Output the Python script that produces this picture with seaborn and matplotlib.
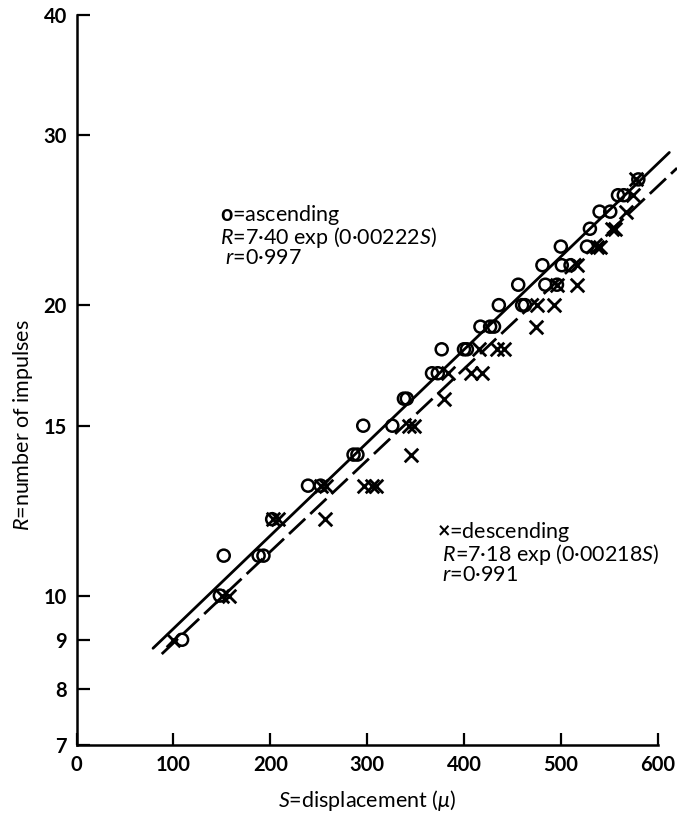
import numpy as np
import pandas as pd
import matplotlib
matplotlib.use("Agg")
import matplotlib.pyplot as plt
import seaborn as sns
from matplotlib.ticker import FixedLocator, FixedFormatter, NullLocator

# Theme first, fonts after (set_theme resets font.family)
sns.set_theme(style="white")
plt.rcParams['font.family'] = ['Lato', 'DejaVu Sans']
plt.rcParams['mathtext.fontset'] = 'custom'
plt.rcParams['mathtext.it'] = 'Lato:italic'
plt.rcParams['mathtext.rm'] = 'Lato'
plt.rcParams['mathtext.bf'] = 'Lato:bold'
plt.rcParams['text.color'] = 'black'
plt.rcParams['axes.labelcolor'] = 'black'

# Ascending stimuli (open circles): displacement S (micron), impulses R
asc_S = [109, 148, 152, 188, 193, 202, 239, 252, 286, 290, 296, 326, 338, 341,
         367, 373, 377, 400, 403, 417, 427, 431, 436, 460, 463, 456, 484, 496,
         481, 501, 510, 500, 527, 530, 540, 551, 559, 565, 580]
asc_R = [9, 10, 11, 11, 11, 12, 13, 13, 14, 14, 15, 15, 16, 16,
         17, 17, 18, 18, 18, 19, 19, 19, 20, 20, 20, 21, 21, 21,
         22, 22, 22, 23, 23, 24, 25, 25, 26, 26, 27]

# Descending stimuli (crosses)
desc_S = [100, 150, 157, 203, 208, 257, 252, 258, 297, 305, 309, 345, 343, 348,
          379, 384, 407, 419, 415, 434, 441, 474, 475, 493, 496, 517, 517, 537,
          540, 553, 556, 567, 575, 578]
desc_R = [9, 10, 10, 12, 12, 12, 13, 13, 13, 13, 13, 14, 15, 15,
          16, 17, 17, 17, 18, 18, 18, 19, 20, 20, 21, 21, 22, 23,
          23, 24, 24, 25, 26, 27]

# Fitted curves R = a exp(b S), as printed on the chart
asc_a, asc_b = 7.40, 0.00222
desc_a, desc_b = 7.18, 0.00218
asc_line_S = [79, 612]
desc_line_S = [88, 620]

x_ticks = [0, 100, 200, 300, 400, 500, 600]
y_ticks = [7, 8, 9, 10, 15, 20, 30, 40]

fig = plt.figure(figsize=(6.77, 8.13), dpi=100)
ax = fig.add_axes([0.113, 0.0836, 0.8585, 0.8983])

# fit lines
asc_fit = pd.DataFrame({'S': asc_line_S})
asc_fit['R'] = asc_a * np.exp(asc_b * asc_fit['S'])
desc_fit = pd.DataFrame({'S': desc_line_S})
desc_fit['R'] = desc_a * np.exp(desc_b * desc_fit['S'])

sns.lineplot(data=asc_fit, x='S', y='R', color='black', linewidth=2.0,
             ax=ax, clip_on=False, zorder=2)
sns.lineplot(data=desc_fit, x='S', y='R', color='black', linewidth=2.0,
             linestyle=(0, (8, 2.5)), ax=ax, clip_on=False, zorder=2)

# points
asc_df = pd.DataFrame({'S': asc_S, 'R': asc_R})
desc_df = pd.DataFrame({'S': desc_S, 'R': desc_R})
sns.scatterplot(data=asc_df, x='S', y='R', marker='o', s=75,
                facecolors='none', edgecolor='black', linewidth=1.8,
                ax=ax, zorder=3, clip_on=False)
sns.scatterplot(data=desc_df, x='S', y='R', marker='x', s=95,
                color='black', linewidth=2.0, ax=ax, zorder=3, clip_on=False)

ax.set_yscale('log')
ax.set_xlim(0, 600)
ax.set_ylim(7, 40)
ax.xaxis.set_major_locator(FixedLocator(x_ticks))
ax.xaxis.set_major_formatter(FixedFormatter([str(v) for v in x_ticks]))
ax.yaxis.set_major_locator(FixedLocator(y_ticks))
ax.yaxis.set_major_formatter(FixedFormatter([str(v) for v in y_ticks]))
ax.yaxis.set_minor_locator(NullLocator())
ax.xaxis.set_minor_locator(NullLocator())

sns.despine(ax=ax)
for side in ['left', 'bottom']:
    ax.spines[side].set_linewidth(1.8)
    ax.spines[side].set_color('black')

ax.tick_params(axis='both', direction='in', length=9, width=1.6,
               color='black', labelcolor='black', labelsize=14.5, pad=7)
ax.tick_params(axis='y', left=True)
ax.tick_params(axis='x', bottom=True)
for lab in ax.get_xticklabels() + ax.get_yticklabels():
    lab.set_fontweight('bold')

ax.set_xlabel('')
ax.set_ylabel('')
fig.text(367 / 677, 1 - 800 / 813, '$S$=displacement ($\\mu$)',
         fontsize=15.5, ha='center', va='center')
fig.text(23 / 677, 1 - 425 / 813, '$R$=number of impulses',
         fontsize=15.5, rotation=90, ha='center', va='center')

# legend / equation blocks, one text per block
asc_block = ('$\\mathbf{o}$=ascending\n'
             '$R$=7·40 exp (0·00222$S$)\n'
             ' $r$=0·997')
desc_block = ('$\\mathbf{×}$=descending\n'
              ' $R$=7·18 exp (0·00218$S$)\n'
              ' $r$=0·991')
fig.text(220 / 677, 1 - 203 / 813, asc_block, fontsize=15.5,
         va='top', linespacing=0.88)
fig.text(437 / 677, 1 - 520 / 813, desc_block, fontsize=15.5,
         va='top', linespacing=0.88)

fig.savefig('out.png', dpi=100)
